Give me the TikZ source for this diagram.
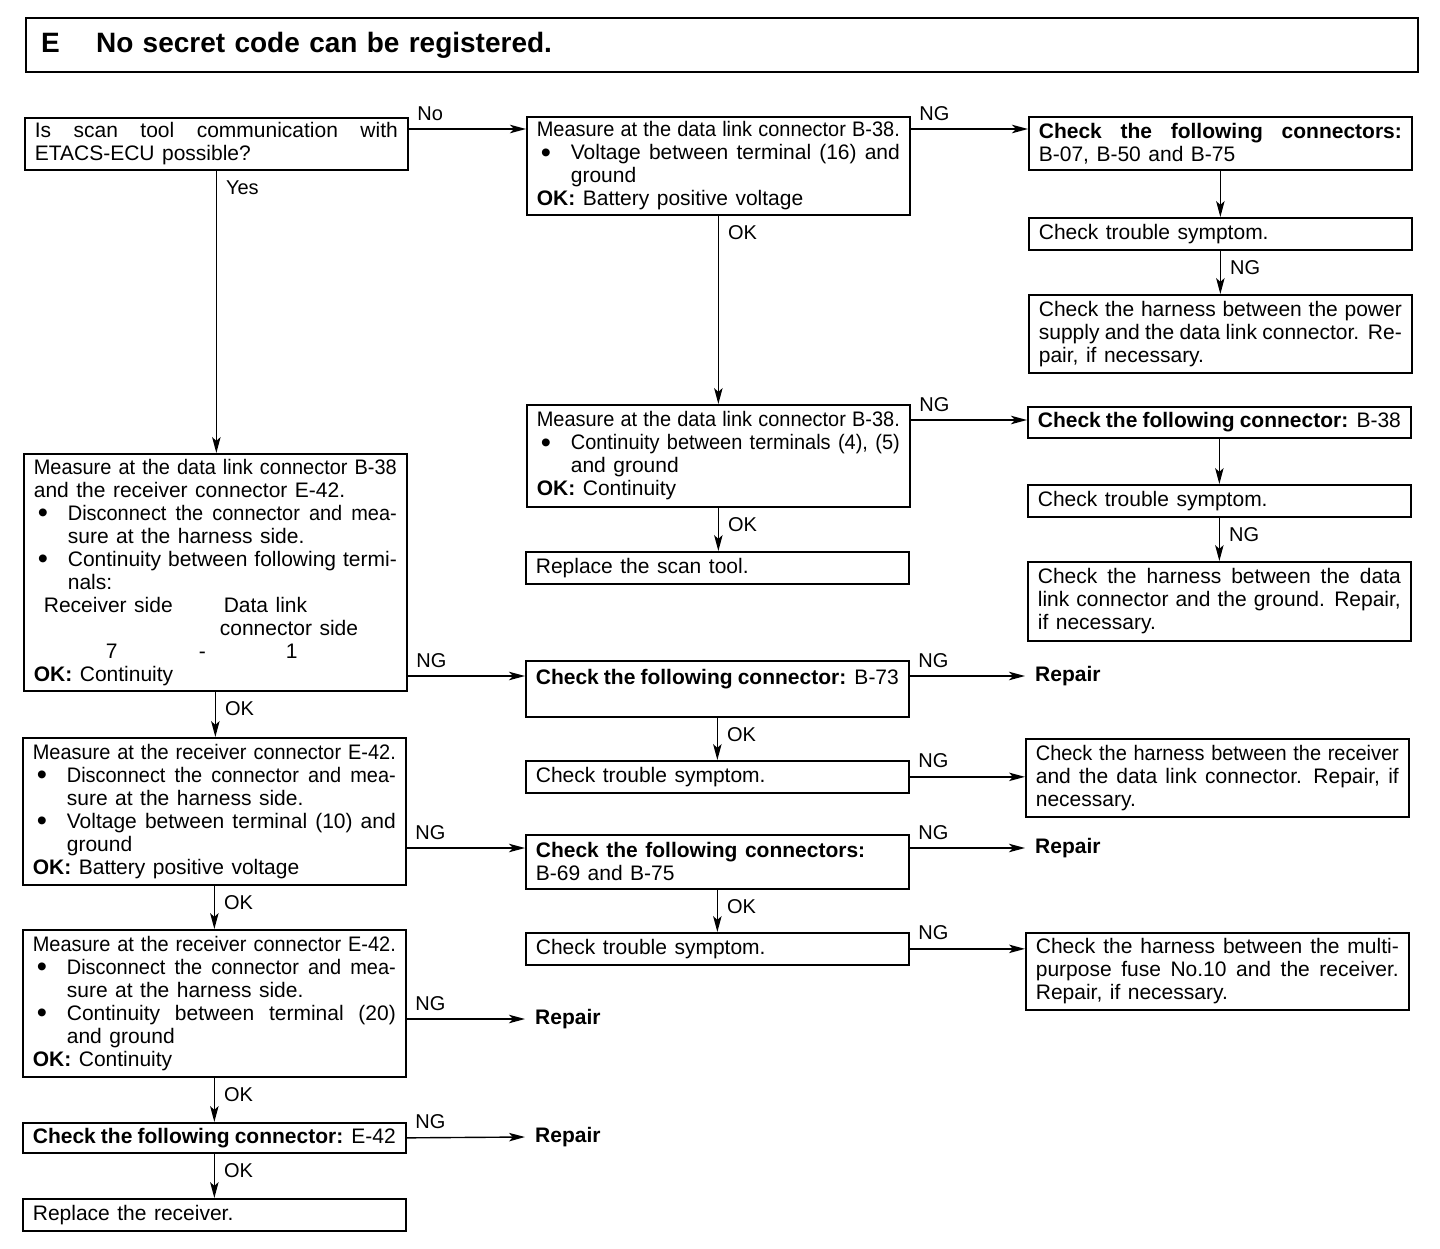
\documentclass[tikz,border=0pt]{standalone}
\usepackage{fontspec}
\setmainfont{Liberation Sans}
\newfontfamily\narrowfont[FakeStretch=0.95]{Liberation Sans}
\usetikzlibrary{arrows.meta}

\newcommand{\boxfont}{\fontsize{21}{23}\selectfont
  \spaceskip=7.5pt plus 8pt minus 3pt\tolerance=9999\hbadness=10000}
\newcommand{\titlefont}{\fontsize{28}{30}\selectfont\bfseries\spaceskip=9pt}
\newcommand{\lblfont}{\fontsize{20}{22}\selectfont}
\newcommand{\bul}{\par\hangindent=34pt\hangafter=1\noindent
  \hbox to 34pt{\hskip4pt\raisebox{-2.5pt}{\fontsize{29}{23}\selectfont\textbullet}\hfil}}
\newcommand{\okline}[1]{\par\noindent\textbf{OK:} #1}

\begin{document}
\begin{tikzpicture}[x=1pt,y=-1pt,>={Stealth[length=16pt,width=8.5pt,inset=4pt]},
    flow/.style={->,line width=1.4pt},
    testbox/.style={draw,line width=1.7pt,anchor=north west,text width=363pt,
      inner xsep=10pt,inner ysep=0pt,align=justify,font=\boxfont,minimum height=#1},
    repair/.style={anchor=west,inner xsep=10pt,font=\boxfont\bfseries},
    hlbl/.style={pos=0,anchor=south west,inner sep=0pt,xshift=8pt,yshift=8pt,font=\lblfont},
    vlbl/.style={pos=0,anchor=north west,inner sep=0pt,xshift=9pt,yshift=-9pt,font=\lblfont}]

  \fill[white] (0,0) rectangle (1440,1248);

  \node[draw,line width=2.2pt,anchor=north west,text width=1362pt,inner xsep=15pt,
    minimum height=54pt,align=left,font=\titlefont]
    (title) at (25,17) {\makebox[55pt][l]{E}No secret code can be registered.};

  % left column
  \node[testbox=52pt] (left1) at (24,117)
    {Is scan tool communication with\linebreak ETACS-ECU possible?};
  \node[testbox=237pt] (left2) at (23,453)
    {{\narrowfont Measure at the data link connector B-38}\linebreak
     and the receiver connector E-42.
     \bul {\narrowfont Disconnect the connector and mea-}\linebreak sure at the harness side.
     \bul Continuity between following termi-\linebreak nals:
     \par\noindent\hspace*{10pt}\makebox[180pt][l]{Receiver side}Data link
     \par\noindent\hspace*{186pt}connector side
     \par\noindent\hspace*{72pt}\makebox[93pt][l]{7}\makebox[87pt][l]{-}1
     \okline{Continuity}};
  \node[testbox=147pt] (left3) at (22,737)
    {{\narrowfont Measure at the receiver connector E-42.}
     \bul {\narrowfont Disconnect the connector and mea-}\linebreak sure at the harness side.
     \bul Voltage between terminal (10) and\linebreak ground
     \okline{Battery positive voltage}};
  \node[testbox=147pt] (left4) at (22,929)
    {{\narrowfont Measure at the receiver connector E-42.}
     \bul {\narrowfont Disconnect the connector and mea-}\linebreak sure at the harness side.
     \bul Continuity between terminal (20)\linebreak and ground
     \okline{Continuity}};
  \node[testbox=30pt] (left5) at (22,1122)
    {\textbf{Check the following connector:} E-42};
  \node[testbox=32pt] (left6) at (22,1198) {Replace the receiver.};

  % middle column
  \node[testbox=98pt] (mid1) at (526,116)
    {{\narrowfont Measure at the data link connector B-38.}
     \bul Voltage between terminal (16) and\linebreak ground
     \okline{Battery positive voltage}};
  \node[testbox=102pt] (mid2) at (526,404)
    {{\narrowfont Measure at the data link connector B-38.}
     \bul {\narrowfont Continuity between terminals (4), (5)}\linebreak and ground
     \okline{Continuity}};
  \node[testbox=32pt] (mid3) at (525,551) {Replace the scan tool.};
  \node[testbox=56pt] (mid4) at (525,660)
    {\textbf{Check the following connector:} B-73\par\mbox{}};
  \node[testbox=32pt] (mid5) at (525,760) {Check trouble symptom.};
  \node[testbox=54pt] (mid6) at (525,834)
    {\textbf{Check the following connectors:}\par B-69 and B-75};
  \node[testbox=32pt] (mid7) at (525,932) {Check trouble symptom.};

  % right column
  \node[testbox=53pt] (right1) at (1028,116)
    {\textbf{Check the following connectors:}\linebreak B-07, B-50 and B-75};
  \node[testbox=32pt] (right2) at (1028,217) {Check trouble symptom.};
  \node[testbox=78pt] (right3) at (1028,294)
    {Check the harness between the power\linebreak
     supply and the data link connector. Re-\linebreak pair, if necessary.};
  \node[testbox=31pt] (right4) at (1027,406)
    {\textbf{Check the following connector:} B-38};
  \node[testbox=32pt] (right5) at (1027,484) {Check trouble symptom.};
  \node[testbox=79pt] (right6) at (1027,561)
    {Check the harness between the data\linebreak
     link connector and the ground. Repair,\linebreak if necessary.};
  \node[testbox=78pt] (right7) at (1025,738)
    {{\narrowfont Check the harness between the receiver}\linebreak
     and the data link connector. Repair, if\linebreak necessary.};
  \node[testbox=77pt] (right8) at (1025,932)
    {Check the harness between the multi-\linebreak
     purpose fuse No.10 and the receiver.\linebreak Repair, if necessary.};

  \node[repair] (rep1) at (1025,676) {Repair};
  \node[repair] (rep2) at (1025,848) {Repair};
  \node[repair] (rep3) at (525,1019) {Repair};
  \node[repair] (rep4) at (525,1137) {Repair};

  % connectors
  \draw[flow] ([yshift=-12pt]left1.north east) coordinate (p) -- node[hlbl]{No} (p -| mid1.west);
  \draw[flow] (left1.south) -- node[vlbl]{Yes} (left1.south |- left2.north);
  \draw[flow] ([yshift=-13pt]mid1.north east) coordinate (p) -- node[hlbl]{NG} (p -| right1.west);
  \draw[flow] (mid1.south) -- node[vlbl]{OK} (mid1.south |- mid2.north);
  \draw[flow] (right1.south) -- (right1.south |- right2.north);
  \draw[flow] (right2.south) -- node[vlbl]{NG} (right2.south |- right3.north);
  \draw[flow] ([yshift=-16pt]mid2.north east) coordinate (p) -- node[hlbl]{NG} (p -| right4.west);
  \draw[flow] (mid2.south) -- node[vlbl]{OK} (mid2.south |- mid3.north);
  \draw[flow] (right4.south) -- (right4.south |- right5.north);
  \draw[flow] (right5.south) -- node[vlbl]{NG} (right5.south |- right6.north);
  \path ([yshift=-16pt]mid4.north west) coordinate (q);
  \draw[flow] (q -| left2.east) -- node[hlbl]{NG} (q);
  \draw[flow] ([yshift=-16pt]mid4.north east) -- node[hlbl]{NG} (rep1.west);
  \draw[flow] (left2.south) -- node[vlbl]{OK} (left2.south |- left3.north);
  \draw[flow] (mid4.south) -- node[vlbl]{OK} (mid4.south |- mid5.north);
  \draw[flow] (mid5.east) -- node[hlbl]{NG} (mid5.east -| right7.west);
  \path ([yshift=-14pt]mid6.north west) coordinate (q);
  \draw[flow] (q -| left3.east) -- node[hlbl]{NG} (q);
  \draw[flow] ([yshift=-14pt]mid6.north east) -- node[hlbl]{NG} (rep2.west);
  \draw[flow] (left3.south) -- node[vlbl]{OK} (left3.south |- left4.north);
  \draw[flow] (mid6.south) -- node[vlbl]{OK} (mid6.south |- mid7.north);
  \draw[flow] (mid7.east) -- node[hlbl]{NG} (mid7.east -| right8.west);
  \draw[flow] (left4.east |- rep3.west) -- node[hlbl]{NG} (rep3.west);
  \draw[flow] (left4.south) -- node[vlbl]{OK} (left4.south |- left5.north);
  \draw[flow] (left5.east) -- node[hlbl]{NG} (rep4.west);
  \draw[flow] (left5.south) -- node[vlbl]{OK} (left5.south |- left6.north);
\end{tikzpicture}
\end{document}
